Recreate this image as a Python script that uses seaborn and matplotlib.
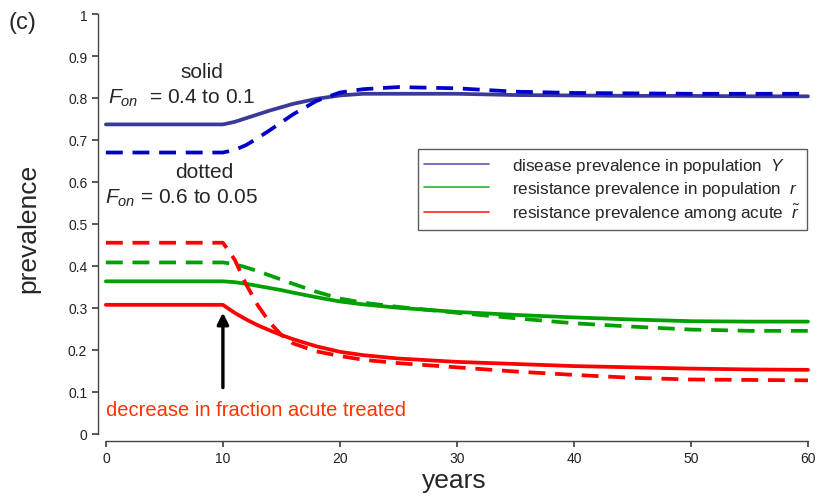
import numpy as np
import pandas as pd
import matplotlib
matplotlib.use("Agg")
import matplotlib.pyplot as plt
import seaborn as sns
from matplotlib.lines import Line2D

sns.set_theme(style="ticks")
plt.rcParams['font.family'] = ['Liberation Sans', 'DejaVu Sans']
plt.rcParams['mathtext.fontset'] = 'custom'
plt.rcParams['mathtext.it'] = 'Liberation Sans:italic'
plt.rcParams['mathtext.rm'] = 'Liberation Sans'

# ---- data ----
years = [0, 10, 11, 12, 13, 14, 15, 16, 18, 20, 22, 25, 30, 35, 40, 45, 50, 55, 60]
Y_solid = [0.737, 0.737, 0.743, 0.752, 0.761, 0.770, 0.778, 0.786, 0.798, 0.806, 0.810, 0.810, 0.810, 0.807, 0.806, 0.805, 0.805, 0.804, 0.804]
Y_dash  = [0.670, 0.670, 0.676, 0.688, 0.705, 0.723, 0.742, 0.761, 0.793, 0.813, 0.821, 0.826, 0.823, 0.815, 0.812, 0.811, 0.810, 0.810, 0.810]
r_solid = [0.363, 0.363, 0.361, 0.357, 0.352, 0.347, 0.342, 0.336, 0.325, 0.315, 0.308, 0.300, 0.290, 0.283, 0.277, 0.272, 0.268, 0.267, 0.267]
r_dash  = [0.408, 0.408, 0.404, 0.396, 0.387, 0.377, 0.367, 0.357, 0.338, 0.322, 0.312, 0.302, 0.288, 0.275, 0.263, 0.255, 0.248, 0.245, 0.245]
rt_solid = [0.307, 0.307, 0.288, 0.272, 0.258, 0.246, 0.235, 0.225, 0.208, 0.195, 0.187, 0.179, 0.171, 0.166, 0.161, 0.158, 0.155, 0.153, 0.152]
rt_dash  = [0.455, 0.455, 0.415, 0.355, 0.305, 0.265, 0.235, 0.215, 0.196, 0.185, 0.176, 0.168, 0.158, 0.148, 0.140, 0.133, 0.129, 0.128, 0.127]

series = {
    "Y_solid": (Y_solid, "#3a3a98", "-"),
    "Y_dash": (Y_dash, "#0000c8", "--"),
    "r_solid": (r_solid, "#00a000", "-"),
    "r_dash": (r_dash, "#00a000", "--"),
    "rt_solid": (rt_solid, "#ff0000", "-"),
    "rt_dash": (rt_dash, "#ff0000", "--"),
}

fig = plt.figure(figsize=(8.21, 5.02), dpi=100)
ax = fig.add_axes([0.119, 0.120, 0.868, 0.850])

for name, (vals, color, ls) in series.items():
    df = pd.DataFrame({"years": years, "prevalence": vals})
    sns.lineplot(data=df, x="years", y="prevalence", ax=ax, color=color,
                 linewidth=2.7, linestyle=ls)
for line in ax.lines:
    if line.get_linestyle() == '--':
        line.set_dashes([4.5, 2.6])

ax.set_xlim(-0.7, 60.2)
ax.set_ylim(-0.017, 1.0)
ax.set_xticks([0, 10, 20, 30, 40, 50, 60])
ax.set_yticks([0, 0.1, 0.2, 0.3, 0.4, 0.5, 0.6, 0.7, 0.8, 0.9, 1])
ax.set_yticklabels(["0", "0.1", "0.2", "0.3", "0.4", "0.5", "0.6", "0.7", "0.8", "0.9", "1"])
ax.spines['left'].set_bounds(0, 1)
ax.spines['bottom'].set_bounds(0, 60)
sns.despine(ax=ax)
for s in ['left', 'bottom']:
    ax.spines[s].set_color('#444444')
    ax.spines[s].set_linewidth(1.0)
ax.tick_params(axis='both', labelsize=10, length=4, color='#444444', labelcolor='#222222')
ax.set_xlabel("years", fontsize=19, labelpad=2)
ax.set_ylabel("prevalence", fontsize=19, labelpad=20)

# texts
ax.text(8.2, 0.862, "solid", fontsize=15, ha='center', va='center')
ax.text(6.5, 0.802, r"$F_{on}$  = 0.4 to 0.1", fontsize=15, ha='center', va='center')
ax.text(8.4, 0.624, "dotted", fontsize=15, ha='center', va='center')
ax.text(6.5, 0.564, r"$F_{on}$ = 0.6 to 0.05", fontsize=15, ha='center', va='center')
ax.text(0.0, 0.058, "decrease in fraction acute treated", fontsize=14.5,
        color='#ff3300', ha='left', va='center')
ax.annotate("", xy=(10, 0.295), xytext=(10, 0.103),
            arrowprops=dict(arrowstyle='-|>', color='black', lw=2.4, mutation_scale=17))

fig.text(0.010, 0.955, "(c)", fontsize=17, ha='left', va='center')

handles = [Line2D([], [], color="#5a5ab8", lw=1.2),
           Line2D([], [], color="#30b030", lw=1.2),
           Line2D([], [], color="#ff2020", lw=1.2)]
labels = [r"disease prevalence in population  $Y$",
          r"resistance prevalence in population  $r$",
          r"resistance prevalence among acute  $\tilde{r}$"]
leg = ax.legend(handles, labels, loc='upper left', bbox_to_anchor=(0.437, 0.703),
                fontsize=12.3, frameon=True, fancybox=False, handlelength=3.8,
                handletextpad=1.3, borderpad=0.4, labelspacing=0.22)
leg.get_frame().set_edgecolor('#333333')
leg.get_frame().set_linewidth(1.0)

fig.savefig("out.png", dpi=100)
